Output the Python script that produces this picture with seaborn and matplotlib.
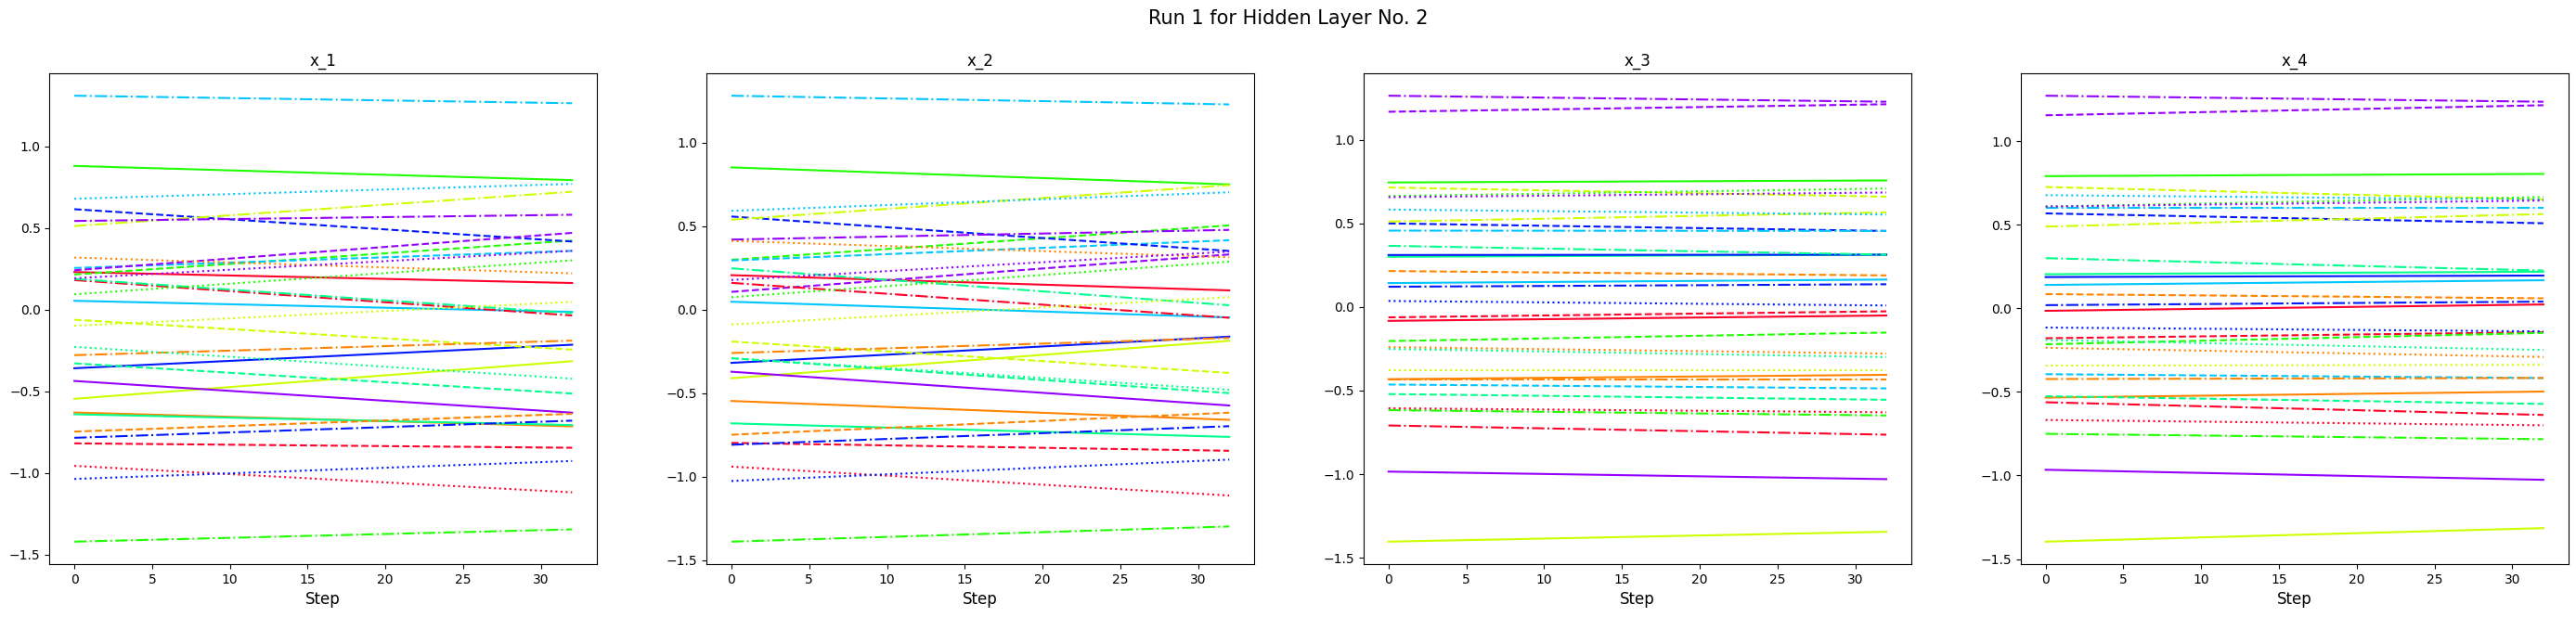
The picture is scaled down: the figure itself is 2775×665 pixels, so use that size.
import numpy as np
import pandas as pd
import matplotlib
matplotlib.use('Agg')
import matplotlib.pyplot as plt
import seaborn as sns

# 32 hidden units = 8 colours x 4 line styles (style-major order)
colour_names = ['red', 'orange', 'yellow', 'green', 'spring', 'cyan', 'blue', 'violet']
style_names = ['solid', 'dashed', 'dashdot', 'dotted']
unit_labels = [s + '_' + c for s in style_names for c in colour_names]

steps = [0, 32]
panel_titles = ['x_1', 'x_2', 'x_3', 'x_4']

# values at step 0 and step 32
x1_start = [0.231, -0.629, -0.545, 0.881, -0.640, 0.055, -0.358, -0.436,
            -0.818, -0.746, -0.061, 0.216, -0.328, 0.256, 0.616, 0.242,
            0.182, -0.278, 0.513, -1.420, 0.189, 1.311, -0.784, 0.544,
            -0.956, 0.320, -0.098, 0.095, -0.227, 0.680, -1.036, 0.193]
x1_end = [0.164, -0.714, -0.315, 0.794, -0.706, -0.013, -0.214, -0.630,
          -0.845, -0.637, -0.244, 0.424, -0.513, 0.361, 0.418, 0.471,
          -0.035, -0.189, 0.723, -1.345, -0.021, 1.265, -0.679, 0.582,
          -1.118, 0.223, 0.048, 0.303, -0.422, 0.771, -0.926, 0.361]

x2_start = [0.206, -0.547, -0.411, 0.851, -0.681, 0.047, -0.319, -0.372,
            -0.798, -0.749, -0.191, 0.298, -0.291, 0.294, 0.557, 0.106,
            0.160, -0.260, 0.538, -1.389, 0.247, 1.280, -0.809, 0.419,
            -0.940, 0.411, -0.089, 0.074, -0.291, 0.591, -1.026, 0.177]
x2_end = [0.115, -0.660, -0.187, 0.749, -0.762, -0.047, -0.162, -0.574,
          -0.845, -0.617, -0.379, 0.504, -0.500, 0.415, 0.351, 0.330,
          -0.049, -0.170, 0.745, -1.298, 0.026, 1.228, -0.698, 0.477,
          -1.113, 0.313, 0.074, 0.287, -0.480, 0.702, -0.898, 0.347]

x3_start = [-0.083, -0.432, -1.404, 0.745, 0.300, 0.143, 0.311, -0.985,
            -0.062, 0.215, 0.715, -0.204, -0.521, -0.464, 0.500, 1.168,
            -0.709, -0.436, 0.511, -0.617, 0.366, 0.457, 0.121, 1.264,
            -0.606, -0.240, -0.379, 0.664, -0.251, 0.583, 0.036, 0.657]
x3_end = [-0.051, -0.406, -1.345, 0.757, 0.313, 0.164, 0.313, -1.030,
          -0.026, 0.189, 0.660, -0.153, -0.555, -0.487, 0.455, 1.213,
          -0.764, -0.436, 0.566, -0.649, 0.313, 0.455, 0.136, 1.228,
          -0.630, -0.279, -0.379, 0.709, -0.300, 0.553, 0.009, 0.685]

x4_start = [-0.015, -0.534, -1.396, 0.791, 0.204, 0.140, 0.187, -0.966,
            -0.179, 0.085, 0.726, -0.215, -0.526, -0.394, 0.568, 1.155,
            -0.562, -0.423, 0.489, -0.751, 0.300, 0.602, 0.019, 1.272,
            -0.668, -0.236, -0.343, 0.609, -0.189, 0.677, -0.115, 0.609]
x4_end = [0.023, -0.498, -1.315, 0.804, 0.219, 0.168, 0.196, -1.026,
          -0.143, 0.060, 0.651, -0.147, -0.572, -0.417, 0.509, 1.215,
          -0.638, -0.417, 0.564, -0.783, 0.226, 0.602, 0.040, 1.236,
          -0.700, -0.291, -0.338, 0.666, -0.249, 0.651, -0.138, 0.645]

starts = [x1_start, x2_start, x3_start, x4_start]
ends = [x1_end, x2_end, x3_end, x4_end]

cmap = plt.get_cmap('gist_rainbow')
palette = {u: cmap(colour_names.index(u.split('_')[1]) / 8) for u in unit_labels}
dash_base = {'solid': '', 'dashed': (3.7, 1.6), 'dashdot': (6.4, 1.6, 1, 1.6), 'dotted': (1, 1.65)}
dashes = {u: dash_base[u.split('_')[0]] for u in unit_labels}

fig, axes = plt.subplots(1, 4, figsize=(27.75, 6.65), dpi=100)
fig.subplots_adjust(left=0.0192, right=0.997, top=0.881, bottom=0.086, wspace=0.2)

for ax, title, start, end in zip(axes, panel_titles, starts, ends):
    df = pd.DataFrame({'unit': unit_labels * 2,
                       'Step': [steps[0]] * 32 + [steps[1]] * 32,
                       'value': start + end})
    sns.lineplot(data=df, x='Step', y='value', hue='unit', style='unit',
                 palette=palette, dashes=dashes, legend=False, ax=ax)
    ax.set_title(title, fontsize=12)
    ax.set_xlabel('Step', fontsize=12)
    ax.set_ylabel('')

fig.suptitle('Run 1 for Hidden Layer No. 2', fontsize=15, y=0.985)
fig.savefig('out.png', dpi=100)
